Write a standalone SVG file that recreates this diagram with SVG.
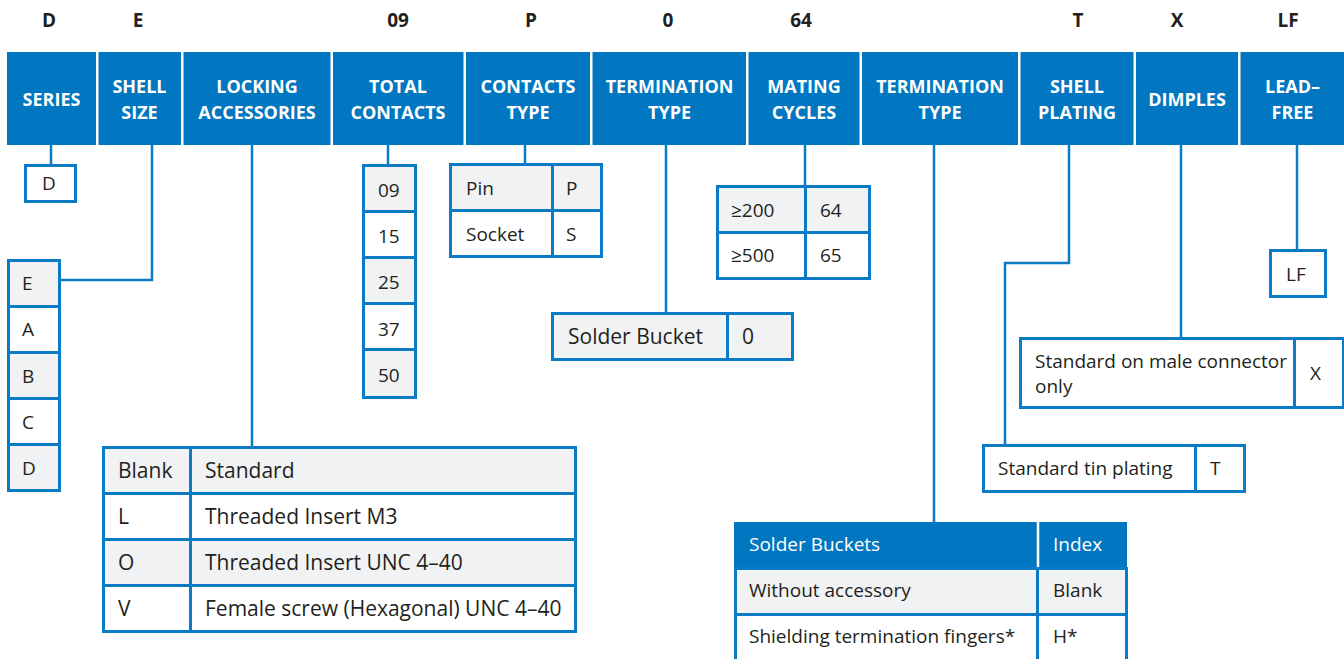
<svg xmlns="http://www.w3.org/2000/svg" width="1344" height="659" viewBox="0 0 1344 659">
<style>
.hdr{fill:#0077c0}
.hl{font-family:"Open Sans","Liberation Sans",sans-serif;font-weight:bold;font-size:18px;fill:#ffffff;text-anchor:middle}
.code{font-family:"Open Sans","Liberation Sans",sans-serif;font-weight:bold;font-size:19px;fill:#231f20;text-anchor:middle}
.c{stroke:#0a7bc4;stroke-width:3;fill:#ffffff}
.g{stroke:#0a7bc4;stroke-width:3;fill:#f1f2f4}
.t{font-family:"Open Sans","Liberation Sans",sans-serif;font-size:19px;fill:#231f20}
.tb{font-family:"Open Sans","Liberation Sans",sans-serif;font-size:21px;fill:#231f20}
.tw{font-family:"Open Sans","Liberation Sans",sans-serif;font-size:19px;fill:#ffffff}
.ln{stroke:#0a7bc4;stroke-width:2.5;fill:none}
</style>
<rect width="1344" height="659" fill="#ffffff"/>
<g id="codes">
<text class="code" x="49" y="27">D</text>
<text class="code" x="138" y="27">E</text>
<text class="code" x="398" y="27">09</text>
<text class="code" x="531" y="27">P</text>
<text class="code" x="668" y="27">0</text>
<text class="code" x="801" y="27">64</text>
<text class="code" x="1078" y="27">T</text>
<text class="code" x="1177" y="27">X</text>
<text class="code" x="1288" y="27">LF</text>
</g>
<g id="connectors">
<path class="ln" d="M51 145V165"/>
<path class="ln" d="M152 145V280H60"/>
<path class="ln" d="M252 145V447"/>
<path class="ln" d="M388 145V165"/>
<path class="ln" d="M525 145V165"/>
<path class="ln" d="M666 145V313"/>
<path class="ln" d="M805 145V186"/>
<path class="ln" d="M934 145V522"/>
<path class="ln" d="M1069 145V263H1005V445"/>
<path class="ln" d="M1181 145V338"/>
<path class="ln" d="M1297 145V250"/>
</g>
<g id="h-series"><rect class="hdr" x="7" y="52" width="89" height="93"/><text class="hl" x="51.5" y="106">SERIES</text></g>
<g id="h-shellsize"><rect class="hdr" x="98.5" y="52" width="82.5" height="93"/><text class="hl" x="139.5" y="93">SHELL</text><text class="hl" x="139.5" y="119">SIZE</text></g>
<g id="h-locking"><rect class="hdr" x="183.5" y="52" width="147" height="93"/><text class="hl" x="257" y="93">LOCKING</text><text class="hl" x="257" y="119">ACCESSORIES</text></g>
<g id="h-total"><rect class="hdr" x="333" y="52" width="130.5" height="93"/><text class="hl" x="398" y="93">TOTAL</text><text class="hl" x="398" y="119">CONTACTS</text></g>
<g id="h-ctype"><rect class="hdr" x="466" y="52" width="124" height="93"/><text class="hl" x="528" y="93">CONTACTS</text><text class="hl" x="528" y="119">TYPE</text></g>
<g id="h-term1"><rect class="hdr" x="592.5" y="52" width="153.5" height="93"/><text class="hl" x="669.5" y="93">TERMINATION</text><text class="hl" x="669.5" y="119">TYPE</text></g>
<g id="h-mating"><rect class="hdr" x="748.5" y="52" width="111" height="93"/><text class="hl" x="804" y="93">MATING</text><text class="hl" x="804" y="119">CYCLES</text></g>
<g id="h-term2"><rect class="hdr" x="862" y="52" width="156" height="93"/><text class="hl" x="940" y="93">TERMINATION</text><text class="hl" x="940" y="119">TYPE</text></g>
<g id="h-plating"><rect class="hdr" x="1020.5" y="52" width="113" height="93"/><text class="hl" x="1077" y="93">SHELL</text><text class="hl" x="1077" y="119">PLATING</text></g>
<g id="h-dimples"><rect class="hdr" x="1136" y="52" width="102" height="93"/><text class="hl" x="1187" y="106">DIMPLES</text></g>
<g id="h-leadfree"><rect class="hdr" x="1240.5" y="52" width="103.5" height="93"/><text class="hl" x="1292.5" y="93">LEAD–</text><text class="hl" x="1292.5" y="119">FREE</text></g>

<g id="n-series"><rect class="c" x="25.5" y="165.5" width="50" height="36"/><text class="t" x="42" y="190">D</text></g>
<g id="n-shellsize">
<rect class="g" x="8.5" y="260.5" width="51" height="46"/><text class="t" x="22" y="290">E</text>
<rect class="c" x="8.5" y="306.5" width="51" height="46"/><text class="t" x="22" y="336">A</text>
<rect class="g" x="8.5" y="352.5" width="51" height="46"/><text class="t" x="22" y="383">B</text>
<rect class="c" x="8.5" y="398.5" width="51" height="46"/><text class="t" x="22" y="429">C</text>
<rect class="g" x="8.5" y="444.5" width="51" height="46"/><text class="t" x="22" y="475">D</text>
</g>
<g id="n-locking">
<rect class="g" x="103.5" y="447.5" width="87" height="46"/><rect class="g" x="190.5" y="447.5" width="385" height="46"/>
<text class="tb" x="118" y="478">Blank</text><text class="tb" x="205" y="478">Standard</text>
<rect class="c" x="103.5" y="493.5" width="87" height="46"/><rect class="c" x="190.5" y="493.5" width="385" height="46"/>
<text class="tb" x="118" y="524">L</text><text class="tb" x="205" y="524">Threaded Insert M3</text>
<rect class="g" x="103.5" y="539.5" width="87" height="46"/><rect class="g" x="190.5" y="539.5" width="385" height="46"/>
<text class="tb" x="118" y="570">O</text><text class="tb" x="205" y="570">Threaded Insert UNC 4–40</text>
<rect class="c" x="103.5" y="585.5" width="87" height="46"/><rect class="c" x="190.5" y="585.5" width="385" height="46"/>
<text class="tb" x="118" y="616">V</text><text class="tb" x="205" y="616">Female screw (Hexagonal) UNC 4–40</text>
</g>
<g id="n-total">
<rect class="g" x="363.5" y="165.5" width="52" height="46"/><text class="t" x="378" y="197">09</text>
<rect class="c" x="363.5" y="211.5" width="52" height="46"/><text class="t" x="378" y="243">15</text>
<rect class="g" x="363.5" y="257.5" width="52" height="46"/><text class="t" x="378" y="289">25</text>
<rect class="c" x="363.5" y="303.5" width="52" height="46"/><text class="t" x="378" y="336">37</text>
<rect class="g" x="363.5" y="349.5" width="52" height="48"/><text class="t" x="378" y="382">50</text>
</g>
<g id="n-ctype">
<rect class="g" x="450.5" y="164.5" width="102" height="46"/><rect class="g" x="552.5" y="164.5" width="49" height="46"/>
<text class="t" x="466" y="195">Pin</text><text class="t" x="566" y="195">P</text>
<rect class="c" x="450.5" y="210.5" width="102" height="46"/><rect class="c" x="552.5" y="210.5" width="49" height="46"/>
<text class="t" x="466" y="241">Socket</text><text class="t" x="566" y="241">S</text>
</g>
<g id="n-term1">
<rect class="g" x="552.5" y="313.5" width="175" height="46"/><rect class="g" x="727.5" y="313.5" width="65" height="46"/>
<text class="tb" x="568" y="344">Solder Bucket</text><text class="tb" x="742" y="344">0</text>
</g>
<g id="n-mating">
<rect class="g" x="717.5" y="186.5" width="88" height="46"/><rect class="g" x="805.5" y="186.5" width="64" height="46"/>
<text class="t" x="731" y="217">≥200</text><text class="t" x="820" y="217">64</text>
<rect class="c" x="717.5" y="232.5" width="88" height="46"/><rect class="c" x="805.5" y="232.5" width="64" height="46"/>
<text class="t" x="731" y="262">≥500</text><text class="t" x="820" y="262">65</text>
</g>
<g id="n-term2">
<rect x="734" y="522" width="393" height="46" fill="#0077c0"/>
<line x1="1038" y1="522" x2="1038" y2="568" stroke="#ffffff" stroke-width="2.5"/>
<text class="tw" x="749" y="551">Solder Buckets</text><text class="tw" x="1053" y="551">Index</text>
<rect class="g" x="735.5" y="568.5" width="302" height="46"/><rect class="g" x="1037.5" y="568.5" width="89" height="46"/>
<text class="t" x="749" y="597">Without accessory</text><text class="t" x="1053" y="597">Blank</text>
<rect class="c" x="735.5" y="614.5" width="302" height="46"/><rect class="c" x="1037.5" y="614.5" width="89" height="46"/>
<text class="t" x="749" y="643">Shielding termination fingers*</text><text class="t" x="1053" y="643">H*</text>
</g>
<g id="n-plating">
<rect class="c" x="983.5" y="445.5" width="212" height="46"/><rect class="c" x="1195.5" y="445.5" width="49" height="46"/>
<text class="t" x="998" y="475">Standard tin plating</text><text class="t" x="1210" y="475">T</text>
</g>
<g id="n-dimples">
<rect class="c" x="1020.5" y="338.5" width="274" height="69"/><rect class="c" x="1294.5" y="338.5" width="49" height="69"/>
<text class="t" x="1035" y="368">Standard on male connector</text><text class="t" x="1035" y="393">only</text>
<text class="t" x="1310" y="380">X</text>
</g>
<g id="n-leadfree"><rect class="c" x="1270.5" y="250.5" width="55" height="46"/><text class="t" x="1286" y="281">LF</text></g>
</svg>
